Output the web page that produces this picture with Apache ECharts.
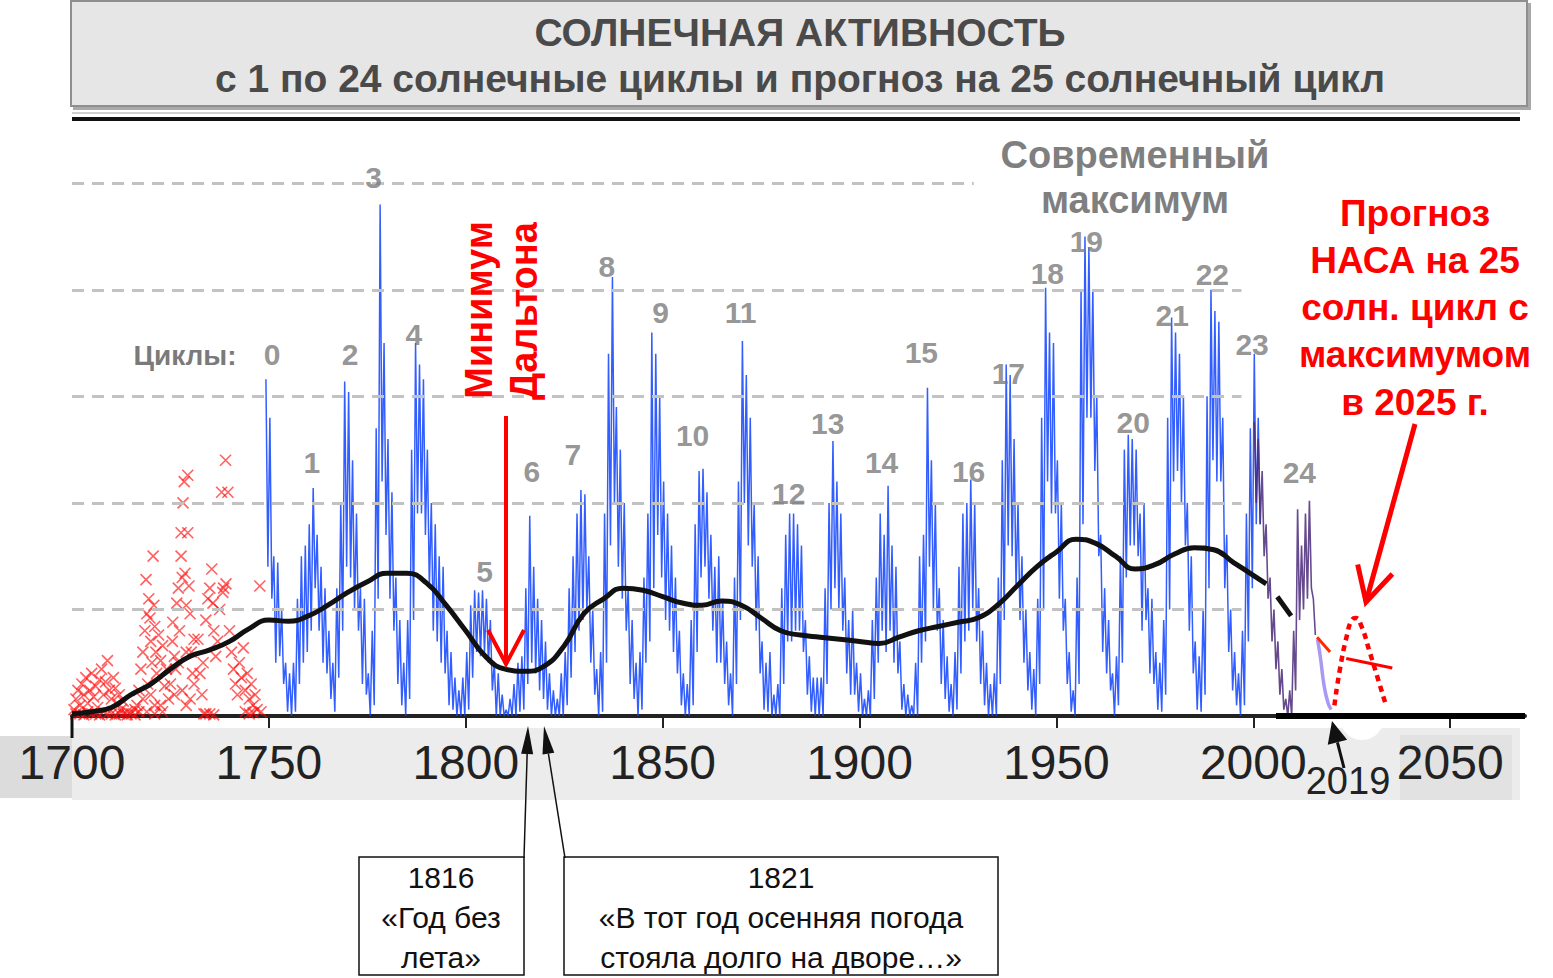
<!DOCTYPE html>
<html><head><meta charset="utf-8">
<script src="https://cdn.jsdelivr.net/npm/echarts@6/dist/echarts.min.js"></script>
<style>html,body{margin:0;padding:0;background:#fff}#c{width:1553px;height:978px}</style>
</head><body><div id="c"></div>
<script>
// ---------------- DATA ----------------
const xTickYears = [1700, 1750, 1800, 1850, 1900, 1950, 2000, 2050];
const gridLevels = [50, 100, 150, 200, 250];
const gridEndYears = [1997, 1997, 1997, 1997, 1929];

// Monthly sunspot number (blue), per year: highest and lowest monthly value
const blueStartYear = 1749;
const blueHigh = [
  158,140,75,72,50,25,20,25,55,75,
  80,90,107,85,70,60,40,25,60,100,
  157,152,120,95,60,55,20,40,135,240,
  175,130,105,65,45,25,45,125,175,165,
  158,125,100,90,75,70,40,30,18,12,
  18,30,52,59,58,59,55,45,25,20,
  10,3,8,15,25,28,60,94,70,55,
  45,35,20,12,8,20,30,60,75,95,
  106,104,75,50,22,30,95,170,206,145,
  125,100,60,45,25,30,65,95,180,170,
  150,110,95,80,65,40,20,15,45,90,
  115,116,105,85,70,75,55,35,20,65,
  110,176,160,140,100,75,35,25,30,10,
  15,60,85,95,95,90,80,45,28,18,
  18,18,60,100,129,110,95,65,45,50,
  25,20,8,12,45,65,95,85,108,80,
  70,35,15,10,5,25,75,85,154,120,
  100,60,45,28,15,30,70,95,100,111,
  100,60,40,25,15,20,65,120,165,160,
  130,100,75,50,30,22,55,140,201,180,
  175,120,100,55,30,12,65,200,225,220,
  200,150,85,60,45,20,28,75,125,132,
  130,125,95,100,60,55,30,25,45,140,
  187,180,170,150,100,75,35,28,50,150,
  200,190,185,140,85,50,30,20,40,95,
  135,170,140
];
const blueLow = [
  70,55,25,28,15,2,0,2,15,25,
  30,40,60,40,25,20,8,2,18,40,
  70,65,50,40,15,10,0,5,55,110,
  85,55,40,15,5,0,8,45,95,95,
  85,60,40,35,25,20,5,3,0,0,
  0,3,18,30,28,30,25,12,0,0,
  0,0,0,0,2,3,15,25,20,12,
  8,3,0,0,0,0,5,18,30,40,
  45,50,25,10,0,2,25,80,100,70,
  55,40,15,8,0,3,25,35,60,85,
  65,45,40,30,20,5,0,0,5,30,
  65,70,55,40,25,25,15,5,0,15,
  45,100,80,70,40,20,3,2,0,0,
  0,15,35,35,40,40,30,10,2,0,
  0,0,15,50,60,50,40,20,10,10,
  2,0,0,0,8,25,40,30,40,25,
  20,3,0,0,0,0,25,35,70,50,
  40,15,8,2,0,3,20,35,40,50,
  35,15,5,0,0,0,15,45,80,75,
  60,45,25,12,3,0,15,50,110,95,
  95,55,40,15,2,0,15,90,140,140,
  115,75,30,20,12,0,5,25,65,80,
  80,75,40,45,20,15,3,2,10,50,
  110,115,100,80,40,20,3,2,10,60,
  120,110,110,60,30,12,5,0,5,35,
  60,90,90
];

// Cycles 23-24 overlay (purple), per year high / low
const purpleStartYear = 2000;
const purpleHigh = [138,130,115,90,65,50,35,22,8,12,40,97,80,95,101,55];
const purpleLow  = [100,90,75,55,35,22,10,3,0,0,12,45,50,55,60,38];

// Smoothed decline of cycle 24 (lavender)
const lavenderYears  = [2016.3, 2017, 2018, 2019, 2019.8];
const lavenderValues = [36, 28, 14, 6, 3];

// Long-term average (black)
const trendYears  = [1700,1705,1710,1715,1720,1725,1730,1735,1740,1745,1750,1755,1760,1765,1770,1775,1780,1785,1790,1795,1800,1805,1810,1815,1820,1825,1830,1835,1840,1845,1850,1855,1860,1865,1870,1875,1880,1885,1890,1895,1900,1905,1910,1915,1920,1925,1930,1935,1940,1945,1950,1955,1960,1965,1970,1975,1980,1985,1990,1995,2000,2003.3];
const trendValues = [1,2,4,10,15,22,28,31,35,41,45,44.5,47,52,58,63,67,67,62.5,52,40,28,22,21,23.5,33,48,55,60,59,56,53,52,54,52,46,40,38,37,36,35,34,37,40,42,44,46,52,61,70,77,83,81,75,69,71,76,79,78,72,66,62];
const trendDashYears  = [2006.1, 2009.6];
const trendDashValues = [56, 47];

// NASA forecast pieces (red)
const nasaTailYears  = [2016.2, 2019.5];
const nasaTailValues = [37, 30];
const forecastYears  = [2020.6, 2022, 2023.8, 2025, 2026, 2027.5, 2029.4, 2031.4, 2033.7];
const forecastValues = [5, 22, 38, 45, 46, 42, 31, 19, 5];
const forecastBarYears  = [2023.6, 2035.3];
const forecastBarValues = [27, 22.5];

// Early observations before 1749 (red crosses)
const earlyObsYears = [
  1700.5,1701,1701.5,1702,1702.5,1703,1703.5,1704,1704.5,1705,1705.5,1706,1706.5,1707,1707.5,1708,1708.5,1709,1709.5,1710,1710.5,1711,1711.5,1712,1712.5,1713,1714,1715,1716,1717,
  1702,1704,1706,1708,1710,1712,1714,1716,1701,1703,1705,1707,1709,1711,1713,
  1716.5,1717,1717.5,1718,1718.5,1718.8,1719,1719.2,1719.5,1719.8,1720,1720.3,1720.6,1720.8,1721,1721.3,1721.5,1722,1722.5,1723,1723.5,1724,1724.5,1720,1721,1718,1722.5,1719,1721,1723,
  1725,1725.5,1725.6,1726,1726.3,1726.6,1727,1727.3,1727.7,1727.7,1728,1728.2,1728.5,1728.7,1729,1729.4,1729.4,1729.7,1730,1730.3,1730.6,1731,1726,1728,1729,1730,1731,1727,1729,
  1732,1732.5,1733,1733.3,1734,1734.5,1735,1735.5,1735.8,1736,1736.5,1737,1737.5,1738,1738.3,1738.5,1739,1739.1,1739.6,1740,1740.5,1741,1741.5,1742,1734,1735,1736,1733.5,
  1742.5,1743,1743.5,1744,1744.5,1745,1745.5,1746,1746.5,1747,1747.7,1748,1744,1745,1746
];
const earlyObsValues = [
  3,8,12,5,15,10,18,6,12,20,9,14,4,17,22,10,16,26,12,8,18,13,6,10,3,7,2,1,3,2,
  1,2,1,2,1,1,0.5,0.5,1,0.5,1,0.5,1,0.5,1,
  5,12,22,30,40,64,48,15,55,46,35,25,75,52,42,30,20,38,26,33,14,22,8,10,5,8,5,2,1,2,
  15,35,44,28,22,53,60,40,86,75,65,100,110,67,52,113,86,61,48,30,20,36,10,12,5,8,15,25,30,
  36,20,10,25,45,55,60,69,53,40,28,35,50,105,58,60,120,62,105,40,30,22,15,10,1,1,0.5,1,
  25,18,32,12,20,8,15,5,10,3,61,2,2,1,1.5
];

// Cycle numbers and where their labels sit (year, level)
const cycleNumbers     = [0,1,2,3,4,5,6,7,8,9,10,11,12,13,14,15,16,17,18,19,20,21,22,23,24];
const cycleLabelYears  = [1750.8,1760.9,1770.6,1776.6,1786.8,1804.8,1816.8,1827.2,1835.8,1849.5,1857.6,1869.8,1882.0,1891.9,1905.6,1915.7,1927.7,1937.8,1947.7,1957.6,1969.5,1979.4,1989.6,1999.7,2011.7];
const cycleLabelLevels = [169.5,118.8,169.5,252.6,178.9,67.6,114.6,122.5,210.8,189.2,131.5,189.2,104.2,137.1,118.8,170.4,114.6,160.6,207.5,222.5,137.6,187.8,207.0,174.2,114.1];

// ---------------- BUILD ----------------
const zip = (xs, ys) => xs.map((x, i) => [x, ys[i]]);
const hiLo = (start, hi, lo) => {
  const out = [];
  hi.forEach((h, i) => { out.push([start + i + 0.25, h]); out.push([start + i + 0.75, lo[i]]); });
  return out;
};

const FONT = "'Liberation Sans', Arial, sans-serif";
const G = [];
const txt = (x, y, s, font, fill, extra) => G.push(Object.assign({
  type: 'text', x: x, y: y, z: 30,
  style: { text: s, font: font, fill: fill, textAlign: 'center', textVerticalAlign: 'middle' }
}, extra || {}));
function arrow(x1, y1, x2, y2, len, w, color, lw, filled) {
  const dx = x2 - x1, dy = y2 - y1, L = Math.hypot(dx, dy), ux = dx / L, uy = dy / L;
  const bx = x2 - ux * len, by = y2 - uy * len, px = -uy * w / 2, py = ux * w / 2;
  if (filled) {
    G.push({ type: 'line', z: 30, shape: { x1: x1, y1: y1, x2: bx, y2: by }, style: { stroke: color, lineWidth: lw } });
    G.push({ type: 'polygon', z: 30, shape: { points: [[x2, y2], [bx + px, by + py], [bx - px, by - py]] }, style: { fill: color } });
  } else {
    G.push({ type: 'line', z: 30, shape: { x1: x1, y1: y1, x2: x2, y2: y2 }, style: { stroke: color, lineWidth: lw } });
    G.push({ type: 'polyline', z: 30, shape: { points: [[bx + px, by + py], [x2, y2], [bx - px, by - py]] }, style: { stroke: color, lineWidth: lw, fill: null } });
  }
}

// title box
G.push({ type: 'rect', z: -6, shape: { x: 73, y: 3, width: 1458, height: 107 }, style: { fill: '#a9a9a9' } });
G.push({ type: 'rect', z: -5, shape: { x: 71, y: 1, width: 1456, height: 105 }, style: { fill: '#e6e6e6', stroke: '#8f8f8f', lineWidth: 2 } });
txt(800, 32, 'СОЛНЕЧНАЯ АКТИВНОСТЬ', 'bold 39px ' + FONT, '#4a4a4a');
txt(800, 78, 'с 1 по 24 солнечные циклы и прогноз на 25 солнечный цикл', 'bold 39px ' + FONT, '#4a4a4a');
G.push({ type: 'line', z: 5, shape: { x1: 72, y1: 113, x2: 1520, y2: 113 }, style: { stroke: '#cfcfcf', lineWidth: 2 } });
G.push({ type: 'line', z: 5, shape: { x1: 72, y1: 119, x2: 1520, y2: 119 }, style: { stroke: '#111', lineWidth: 4 } });

// axis label band
G.push({ type: 'rect', z: -6, shape: { x: 72, y: 728, width: 1448, height: 72 }, style: { fill: '#ececec' } });
G.push({ type: 'rect', z: -5, shape: { x: 0, y: 736, width: 72, height: 62 }, style: { fill: '#dcdcdc' } });
G.push({ type: 'rect', z: -5, shape: { x: 1400, y: 735, width: 112, height: 65 }, style: { fill: '#e2e2e2' } });
G.push({ type: 'circle', z: -4, shape: { cx: 1362, cy: 718, r: 22 }, style: { fill: '#ffffff' } });
G.push({ type: 'line', z: 8, shape: { x1: 1276, y1: 716, x2: 1525, y2: 716 }, style: { stroke: '#000', lineWidth: 6 } });
G.push({ type: 'line', z: 8, shape: { x1: 72, y1: 716, x2: 72, y2: 738 }, style: { stroke: '#111', lineWidth: 3 } });

// 2019 marker
txt(1348, 781, '2019', '38px ' + FONT, '#222');
arrow(1344, 768, 1332, 721, 22, 20, '#111', 3, true);

// annotations
txt(185, 355, 'Циклы:', 'bold 28px ' + FONT, '#7a7a7a');
txt(1135, 155, 'Современный', 'bold 38px ' + FONT, '#7f7f7f');
txt(1135, 200, 'максимум', 'bold 38px ' + FONT, '#7f7f7f');
['Прогноз', 'НАСА на 25', 'солн. цикл с', 'максимумом', 'в 2025 г.'].forEach((s, i) =>
  txt(1415, 213 + i * 47.3, s, 'bold 37px ' + FONT, '#ff0000'));
arrow(1415, 424, 1366, 602, 34, 36, '#ff0000', 5, false);
txt(479, 310, 'Минимум', 'bold 38px ' + FONT, '#ff0000', { rotation: Math.PI / 2 });
txt(524, 311, 'Дальтона', 'bold 38px ' + FONT, '#ff0000', { rotation: Math.PI / 2 });
arrow(506, 416, 506, 664, 34, 36, '#ff0000', 4, false);

// bottom boxes
G.push({ type: 'rect', z: 20, shape: { x: 359, y: 857, width: 165, height: 118 }, style: { fill: '#fff', stroke: '#111', lineWidth: 1.5 } });
G.push({ type: 'rect', z: 20, shape: { x: 564, y: 857, width: 434, height: 118 }, style: { fill: '#fff', stroke: '#111', lineWidth: 1.5 } });
['1816', '«Год без', 'лета»'].forEach((s, i) => txt(441, 877 + i * 40, s, '30px ' + FONT, '#111'));
['1821', '«В тот год осенняя погода', 'стояла долго на дворе…»'].forEach((s, i) => txt(781, 877 + i * 40, s, '30px ' + FONT, '#111'));
arrow(524, 858, 528, 726, 28, 12, '#111', 1.5, true);
arrow(565, 858, 544, 726, 28, 12, '#111', 1.5, true);

const option = {
  animation: false,
  backgroundColor: '#fff',
  grid: { left: 72, right: 28, top: 130, bottom: 262, containLabel: false },
  xAxis: {
    type: 'value', min: 1700, max: 2069,
    axisLine: { lineStyle: { color: '#222', width: 4 } },
    axisTick: { customValues: xTickYears, length: 12, lineStyle: { color: '#222', width: 2 } },
    axisLabel: { customValues: xTickYears, formatter: v => String(v), fontSize: 48, fontFamily: FONT, color: '#222', margin: 22 },
    splitLine: { show: false }
  },
  yAxis: { type: 'value', min: 0, max: 275, show: false, splitLine: { show: false } },
  graphic: { elements: G },
  series: [
    {
      name: 'grid', type: 'line', data: [], z: 1, silent: true,
      markLine: {
        silent: true, symbol: 'none', label: { show: false },
        lineStyle: { type: [12, 8], color: '#c2c2c2', width: 3 },
        data: gridLevels.map((v, i) => [{ coord: [1700, v] }, { coord: [gridEndYears[i], v] }])
      }
    },
    {
      name: 'early', type: 'scatter', z: 3,
      data: zip(earlyObsYears, earlyObsValues),
      symbol: 'path://M0,0L10,10M10,0L0,10', symbolSize: 11,
      itemStyle: { color: 'rgba(0,0,0,0)', borderColor: 'rgba(255,10,10,0.8)', borderWidth: 1.6 }
    },
    {
      name: 'monthly', type: 'line', z: 4, showSymbol: false,
      data: hiLo(blueStartYear, blueHigh, blueLow),
      lineStyle: { color: '#0f42ff', width: 1.5, opacity: 0.85 }
    },
    {
      name: 'purple', type: 'line', z: 5, showSymbol: false,
      data: hiLo(purpleStartYear, purpleHigh, purpleLow),
      lineStyle: { color: '#4b2a7a', width: 1.6, opacity: 0.85 }
    },
    {
      name: 'lavender', type: 'line', z: 5, showSymbol: false, smooth: true,
      data: zip(lavenderYears, lavenderValues),
      lineStyle: { color: '#a999f5', width: 3.5 }
    },
    {
      name: 'trend', type: 'line', z: 6, showSymbol: false, smooth: true,
      data: zip(trendYears, trendValues),
      lineStyle: { color: '#111', width: 5 }
    },
    {
      name: 'trendDash', type: 'line', z: 6, showSymbol: false,
      data: zip(trendDashYears, trendDashValues),
      lineStyle: { color: '#111', width: 5 }
    },
    {
      name: 'nasaTail', type: 'line', z: 6, showSymbol: false,
      data: zip(nasaTailYears, nasaTailValues),
      lineStyle: { color: '#ff2a00', width: 3 }
    },
    {
      name: 'forecast', type: 'line', z: 6, showSymbol: false, smooth: true,
      data: zip(forecastYears, forecastValues),
      lineStyle: { color: '#ff0000', width: 4.5, type: [6, 5] }
    },
    {
      name: 'forecastBar', type: 'line', z: 6, showSymbol: false,
      data: zip(forecastBarYears, forecastBarValues),
      lineStyle: { color: '#ff0000', width: 3 }
    },
    {
      name: 'cycles', type: 'scatter', z: 10, symbolSize: 0,
      data: cycleNumbers.map((n, i) => [cycleLabelYears[i], cycleLabelLevels[i], n]),
      label: {
        show: true, position: 'inside', formatter: p => String(p.data[2]),
        fontSize: 30, fontWeight: 'bold', fontFamily: FONT, color: '#7a7a7a'
      }
    }
  ]
};
const chart = echarts.init(document.getElementById('c'), null, { renderer: 'svg' });
chart.setOption(option);
</script></body></html>
